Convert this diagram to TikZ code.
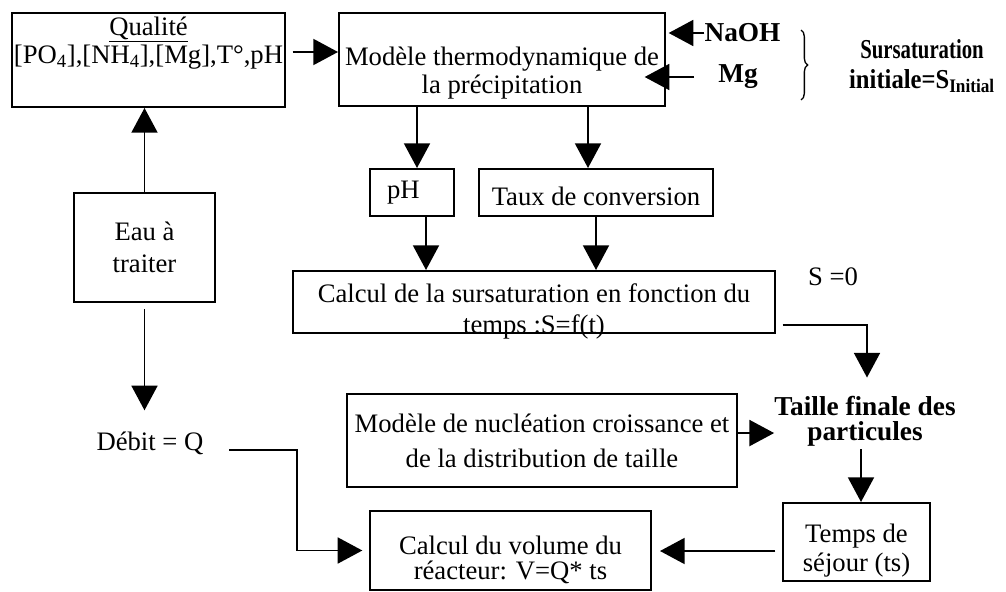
\documentclass[tikz,border=0pt]{standalone}
\usepackage{fontspec}
\setmainfont{Liberation Serif}
\usetikzlibrary{arrows.meta,decorations.pathreplacing}

\begin{document}
\begin{tikzpicture}[
  x=0.75pt, y=-0.75pt,
  every node/.style={font=\fontsize{20}{21}\selectfont, inner sep=0pt},
  bloc/.style={draw, line width=1.5pt, align=center},
  gras/.style={font=\fontsize{20.5}{21}\selectfont\bfseries, align=center},
  fleche/.style={line width=1.4pt, -{Triangle[length=18.5pt,width=19.5pt]}},
  accolade/.style={line width=1pt, decorate, decoration={brace, amplitude=5pt}}]
\useasboundingbox (0,0) rectangle (1006,592);
% blocs
\node[bloc, minimum width=204.75pt, minimum height=70.5pt] (qual) at (148.5,60)
  {\underline{Qualité}\\{[}PO\textsubscript{4}{]},{[}NH\textsubscript{4}{]},{[}Mg{]},T°,pH\rule[-30pt]{0pt}{30pt}};
\node[bloc, minimum width=244.5pt, minimum height=69.75pt] (thermo) at (502,59.5)
  {\rule{0pt}{33.6pt}Modèle thermodynamique de\\la précipitation};
\node[bloc, minimum width=63pt, minimum height=35.25pt] (ph) at (412,192.5) {pH\hspace*{13pt}};
\node[bloc, minimum width=175.5pt, minimum height=35.25pt] (taux) at (596,192.5)
  {\rule{0pt}{19.2pt}Taux de conversion};
\node[bloc, minimum width=361.5pt, minimum height=46.5pt] (sursat) at (534,302)
  {\rule{0pt}{23.25pt}Calcul de la sursaturation en fonction du\\[2.25pt]\raisebox{0pt}[\height][0pt]{temps :S=f(t)}};
\node[bloc, minimum width=105.75pt, minimum height=81.75pt] (eau) at (144.5,247.5) {Eau à\\[3pt]traiter};
\node[bloc, minimum width=292.5pt, minimum height=69.75pt] (nucl) at (542,440.5)
  {Modèle de nucléation croissance et\\[5.25pt]de la distribution de taille};
\node[bloc, minimum width=210.75pt, minimum height=59.25pt] (volume) at (510.5,550.5)
  {\rule{0pt}{28.6pt}Calcul du volume du\\[-2.25pt]réacteur: V=Q* ts};
\node[bloc, minimum width=110.25pt, minimum height=58.5pt] (temps) at (856.5,542)
  {\rule{0pt}{26.2pt}Temps de\\[0.75pt]séjour (ts)};
% textes libres
\node (debit) at (150,443) {Débit = Q};
\node (s0) at (833,277) {S =0};
\node[gras] (taille) at (865,421.5) {Taille finale des\\[-2.25pt]particules};
\node[gras] (naoh) at (742.5,33) {NaOH};
\node[gras] (mg) at (738,77) {Mg};
\node[gras] (sinit) at (922,66)
  {\scalebox{0.76}[1]{Sursaturation}\\[1.5pt]\scalebox{0.9}[1]{initiale=S\textsubscript{Initial}}};
\draw[accolade] (801,30) -- (801,100);
% fleches
\draw[fleche] ([xshift=5pt,yshift=6pt]qual.east) -- ([yshift=6pt]qual.east -| thermo.west);
\draw[fleche, shorten >=2pt] (naoh.west) -- (naoh.west -| thermo.east);
\draw[fleche, shorten >=2pt] ([xshift=-18pt]mg.west) -- ([xshift=-18pt]mg.west -| thermo.east);
\draw[fleche] ([xshift=3.75pt]ph.north |- thermo.south) -- ([xshift=3.75pt]ph.north);
\draw[fleche] ([xshift=-6pt]taux.north |- thermo.south) -- ([xshift=-6pt]taux.north);
\draw[fleche] ([xshift=10.5pt]ph.south) -- ([xshift=10.5pt]ph.south |- sursat.north);
\draw[fleche] (taux.south) -- (taux.south |- sursat.north);
\draw[fleche] ([xshift=5pt,yshift=-17.25pt]sursat.east) -| ([xshift=1.5pt,yshift=14pt]taille.north);
\draw[fleche] ([yshift=5.6pt]nucl.east) -- ([yshift=5.6pt]nucl.east -| taille.west);
\draw[fleche] ([xshift=-3pt,yshift=-2pt]taille.south) -- ([xshift=-3pt]taille.south |- temps.north);
\draw[fleche] ([xshift=-5pt,yshift=-6.75pt]temps.west) -- ([xshift=6pt,yshift=-6.75pt]temps.west -| volume.east);
\draw[fleche] (eau.north) -- (eau.north |- qual.south);
\draw[fleche] ([yshift=-4.5pt]eau.south) -- ([yshift=15.75pt]eau.south |- debit.north);
\coordinate (coude) at (297,500);
\draw[fleche] ([xshift=19pt,yshift=-5.25pt]debit.east) -| (coude) |- ([xshift=-5pt]volume.west);
\end{tikzpicture}
\end{document}
